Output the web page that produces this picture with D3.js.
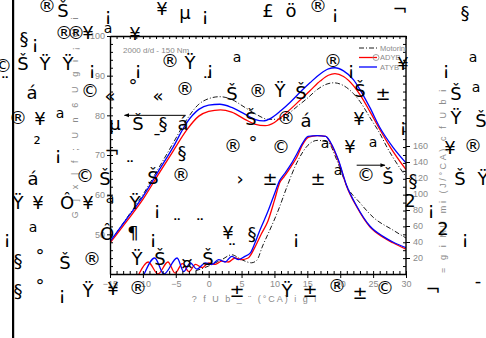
<!DOCTYPE html>
<html>
<head>
<meta charset="utf-8">
<script src="https://cdn.jsdelivr.net/npm/d3@7"></script>
<style>
  body { margin: 0; background: #fff; }
  svg { display: block; }
</style>
</head>
<body>
<div id="chart"></div>
<script>
// crank angle (°CA) / cylinder pressure (left axis)
const pressureMotoring = [[-15,48],[-12.5,54],[-10,60],[-7.5,67],[-5.4,73],[-3.5,78.5],[-1.5,82.8],[0,84.2],[1.7,84.7],[3.5,84],[5.5,82],[7.5,80],[9,79],[10.5,79],[12,80.3],[13.5,82.3],[15,84.3],[16.5,86.5],[18,87.9],[19,88.2],[20.5,87.5],[22,85.5],[23,83.5],[24.5,79.5],[26,75.5],[27.1,72],[30,64.5]];
const pressureADYB = [[-15,47.8],[-12.5,53.2],[-10,58.8],[-7.5,65.5],[-5.4,71],[-3.3,76.4],[-1.5,79.8],[0,81],[1.8,81.4],[3.5,80.8],[5.5,79],[7,77.8],[8.6,77.4],[10,78.2],[11.2,79.8],[12.4,81.5],[14,84],[15.4,86.2],[17,88.7],[18.2,90.1],[19.2,90.5],[20.5,89.8],[22,87.5],[23,85.2],[24.5,81],[26,76.5],[27.6,72],[30,66.3]];
const pressureATYB = [[-15,48.2],[-12.5,53.8],[-10,59.5],[-7.5,66.3],[-5.4,72],[-3.4,78],[-1.5,81.5],[0,82.6],[1.7,82.8],[3.5,82],[5.5,80.3],[7,79],[8.3,78.6],[9.5,79.3],[11,81.2],[12.4,83.3],[14,86],[15.4,88.2],[17,90.5],[18.2,91.7],[19.2,92],[20.5,91.2],[22,89],[23,86.5],[24.5,82],[26,77],[28,72],[30,68]];

// heat release rate (right axis)
const hrrMotoring = [[-2,4],[0,10],[2,18],[3.5,24],[5,18],[6.5,14],[7.3,17],[8.2,35],[9.3,55],[10.6,80],[11.9,109],[13.4,139],[15.1,161],[16.5,167],[18.1,165],[19.5,142],[21,110],[23,89],[25,71],[28,55],[30,45]];
const hrrADYB = [[-10.6,0],[-9.2,15],[-7.7,0],[-6.2,15],[-5.1,1],[-4,13],[-3,3],[-2,12],[-1,8],[0,14],[1,12],[2,16],[3,15],[4,20],[5,18],[6,20],[7,33],[8,50],[9,66],[10,92],[10.8,114],[11.5,122],[12.5,134],[13.4,146],[14.3,162],[15.2,171],[16.5,173],[17.8,172],[18.5,164],[19.7,142],[21,109],[22.5,84],[24.5,59],[26.5,46],[28,39],[30,31]];
const hrrATYB = [[-9.8,0],[-8.2,20],[-6.8,0],[-4.8,20],[-3.8,3],[-2.8,14],[-1.8,6],[-0.5,14],[0.5,12],[1.5,18],[2.5,15],[3.5,22],[4.5,18],[5.5,22],[6.3,26],[7,38],[7.8,55],[9,78],[10,100],[10.8,117],[11.5,125],[12.5,137],[13.4,150],[14.3,164],[15.1,172],[16.5,173],[17.8,172],[18.5,165],[19.7,143],[21,110],[22.5,85],[24.5,60],[26.5,47],[28,40],[30,33]];

const xTicks = [-15,-10,-5,0,5,10,15,20,25,30];
const leftTicks = [50,60,70,80,90,100];
const rightTicks = [20,40,60,80,100,120,140,160];
const legendNames = ["Motoring","ADYB","ATYB"];

// garbled glyphs printed over the figure
const glyphs = [
  ["®",47,5],["Š",63,10],["¡",108,14],["¥",162,8],["µ",185,12],["¡",205,14],["£",268,10],["ö",291,10],["®",318,5],["¡",335,12],["¬",400,8],["§",465,12],
  ["§",24,38],["¡",35,42],["®",64,32],["®",76,32],["¥",88,32],["a",108,28],["¥",135,33],
  ["©",3,65],["Š",23,63],["Ÿ",45,63],["Ÿ",68,63],["¡",92,68],["¡",138,68],["®",170,60],["Ÿ",190,62],["¡",210,68],["a",237,57],["®",333,60],["¡",351,68],["¥",403,63],["¡",446,68],["a",473,57],
  ["¨",5,83],["á",32,92],["©",90,90],["«",110,95],["°",133,85],["«",158,95],["®",185,88],["¨",207,83],["Š",232,93],["®",258,90],["Ÿ",280,90],["Š",301,92],["Š",360,90],["±",383,93],["Š",456,93],["a",476,87],
  ["®",18,117],["¥",40,118],["a",60,113],["µ",115,123],["Š",138,123],["§",163,123],["á",183,123],["Š",251,118],["®",286,117],["á",306,120],["¥",359,118],["¡",403,125],["Ÿ",456,117],["Š",481,120],
  ["²",37,143],["¡",58,153],["¯",157,140],["¬",112,150],["§",182,152],["®",233,145],["°",253,142],["©",281,146],["a",325,143],["¥",350,146],["a",373,142],["¥",450,147],["®",473,145],
  ["á",33,178],["¨",130,167],["©",85,175],["Š",105,178],["Š",153,177],["®",181,174],["›",240,178],["±",270,178],["±",318,178],["a",338,170],["©",366,174],["Š",388,177],["§",413,180],["Š",460,178],["Ÿ",483,178],
  ["Ÿ",18,202],["¥",38,202],["Ô",67,202],["¥",88,202],["a",110,198],["Ÿ",135,202],["¡",157,208],["2",410,200],["¡",431,208],
  ["¡",7,237],["a",33,227],["Ô",107,233],["¶",133,232],["¡",153,237],["¨",177,225],["¨",200,225],["¥",228,232],["§",252,233],["¡",296,237],["2",443,228],["¡",465,237],
  ["§",18,260],["°",40,255],["Š",65,262],["®",92,258],["Ÿ",137,258],["Š",160,258],["¤",187,262],["Š",208,258],["¨",232,250],
  ["§",18,290],["°",40,285],["¡",62,293],["Ÿ",88,290],["¥",113,288],["®",138,287],["±",237,290],["Ÿ",287,290],["±",310,290],["®",337,285],["±",360,292],["©",385,287],["¬",433,288],["-",478,280]
];

const W = 486, H = 338;
const plot = { left: 110, right: 406, top: 36, bottom: 274 };
const grey = "#8a8a8a";

const svg = d3.select("#chart").append("svg")
  .attr("width", W)
  .attr("height", H)
  .style("font-family", "'Liberation Sans', Arial, sans-serif");

svg.append("rect").attr("width", W).attr("height", H).attr("fill", "#fff");

let x = d3.scaleLinear().domain([-15, 30]).range([plot.left, plot.right]);
let yP = d3.scaleLinear().domain([40, 100]).range([plot.bottom, plot.top]);
let yH = d3.scaleLinear().domain([0, 160]).range([plot.bottom, plot.bottom - 128]);

svg.append("clipPath").attr("id", "clip")
  .append("rect")
  .attr("x", plot.left).attr("y", plot.top)
  .attr("width", plot.right - plot.left).attr("height", plot.bottom - plot.top);

const g = svg.append("g").attr("clip-path", "url(#clip)");

let lineP = d3.line().x(d => x(d[0])).y(d => yP(d[1])).curve(d3.curveMonotoneX);
let lineH = d3.line().x(d => x(d[0])).y(d => yH(d[1])).curve(d3.curveMonotoneX);

const series = [
  { p: pressureMotoring, h: hrrMotoring, color: "#000", width: 0.9, dash: "5,2,1,2" },
  { p: pressureADYB, h: hrrADYB, color: "#ff0000", width: 1.3, dash: null },
  { p: pressureATYB, h: hrrATYB, color: "#0000ff", width: 1.3, dash: null }
];

series.forEach(function(s) {
  [lineP(s.p), lineH(s.h)].forEach(function(path) {
    g.append("path")
      .attr("d", path)
      .attr("fill", "none")
      .attr("stroke", s.color)
      .attr("stroke-width", s.width)
      .attr("stroke-dasharray", s.dash);
  });
});

// axes
function styleAxis(sel) {
  sel.selectAll(".domain").attr("stroke", "#000").attr("stroke-width", 1.4);
  sel.selectAll(".tick line").attr("stroke", "#000");
  sel.selectAll(".tick text").attr("fill", grey).style("font-size", "9px");
}

const bottomAxis = svg.append("g")
  .attr("transform", "translate(0," + plot.bottom + ")")
  .call(d3.axisBottom(x).tickValues(xTicks).tickSize(4).tickSizeOuter(0).tickPadding(3));
styleAxis(bottomAxis);
svg.append("g")
  .attr("transform", "translate(0," + plot.bottom + ")")
  .call(d3.axisBottom(x).tickValues(d3.range(-15, 31, 1)).tickSize(-3).tickSizeOuter(0).tickFormat(""))
  .call(s => s.select(".domain").remove());

svg.append("g")
  .attr("transform", "translate(0," + plot.top + ")")
  .call(d3.axisTop(x).tickValues(d3.range(-15, 31, 1)).tickSize(-3).tickSizeOuter(0).tickFormat(""))
  .call(s => s.select(".domain").attr("stroke-width", 1.4));

const leftAxis = svg.append("g")
  .attr("transform", "translate(" + plot.left + ",0)")
  .call(d3.axisLeft(yP).tickValues(leftTicks).tickSize(3).tickSizeOuter(0).tickPadding(2));
styleAxis(leftAxis);
svg.append("g")
  .attr("transform", "translate(" + plot.left + ",0)")
  .call(d3.axisLeft(yP).tickValues(d3.range(40, 101, 2)).tickSize(-3).tickSizeOuter(0).tickFormat(""))
  .call(s => s.select(".domain").remove());

svg.append("line")
  .attr("x1", plot.right).attr("x2", plot.right)
  .attr("y1", plot.top).attr("y2", plot.bottom)
  .attr("stroke", "#000").attr("stroke-width", 1.4);

const rightAxis = svg.append("g")
  .attr("transform", "translate(" + plot.right + ",0)")
  .call(d3.axisRight(yH).tickValues(rightTicks).tickSize(4).tickSizeOuter(0).tickPadding(3));
styleAxis(rightAxis);
rightAxis.select(".domain").remove();
svg.append("g")
  .attr("transform", "translate(" + plot.right + ",0)")
  .call(d3.axisRight(yP).tickValues(d3.range(40, 101, 2)).tickSize(-3).tickSizeOuter(0).tickFormat(""))
  .call(s => s.select(".domain").remove());

// axis titles (garbled as in the source)
svg.append("text")
  .attr("x", 255).attr("y", 302)
  .attr("text-anchor", "middle")
  .attr("fill", grey).style("font-size", "9px")
  .attr("letter-spacing", "2")
  .text("? f U b _ ¨ (°CA) i g i");

svg.append("text")
  .attr("transform", "translate(78,116) rotate(-90)")
  .attr("text-anchor", "middle")
  .attr("fill", grey).style("font-size", "9px")
  .attr("letter-spacing", "3.6")
  .text("G ] x | f ; U n 6 U g i ¡ W i");

svg.append("text")
  .attr("transform", "translate(446,180) rotate(-90)")
  .attr("text-anchor", "middle")
  .attr("fill", grey).style("font-size", "9px")
  .attr("letter-spacing", "2.6")
  .text("= g i MU mi (J/°CA) c f U b i");

// annotation
svg.append("text")
  .attr("x", 123).attr("y", 53)
  .attr("fill", grey).style("font-size", "8px")
  .text("2000 d/d - 150 Nm");

// legend, clipped by the plot frame
const legend = svg.append("g").attr("clip-path", "url(#clip)");
series.forEach(function(s, i) {
  let ly = 48 + i * 9.5;
  legend.append("line")
    .attr("x1", 359).attr("x2", 377)
    .attr("y1", ly).attr("y2", ly)
    .attr("stroke", s.color).attr("stroke-width", s.width)
    .attr("stroke-dasharray", s.dash);
  legend.append("text")
    .attr("x", 380).attr("y", ly + 2.8)
    .attr("fill", grey).style("font-size", "7.5px")
    .text(legendNames[i]);
});
legend.append("circle")
  .attr("cx", 376).attr("cy", 57.5).attr("r", 3)
  .attr("fill", "none").attr("stroke", grey).attr("stroke-width", 0.8);

// arrows pointing to the axes
svg.append("defs").append("marker")
  .attr("id", "head")
  .attr("viewBox", "0 0 10 10")
  .attr("refX", 9).attr("refY", 5)
  .attr("markerWidth", 7).attr("markerHeight", 5)
  .attr("orient", "auto")
  .append("path").attr("d", "M0,1 L10,5 L0,9 Z").attr("fill", "#000");

svg.append("line")
  .attr("x1", x(-3.5)).attr("x2", x(-12.8))
  .attr("y1", yP(80)).attr("y2", yP(80))
  .attr("stroke", "#000").attr("stroke-width", 1)
  .attr("marker-end", "url(#head)");

svg.append("line")
  .attr("x1", x(22.5)).attr("x2", x(26.8))
  .attr("y1", yH(136)).attr("y2", yH(136))
  .attr("stroke", "#000").attr("stroke-width", 1)
  .attr("marker-end", "url(#head)");

// left border bar
svg.append("rect")
  .attr("x", 12).attr("y", 0)
  .attr("width", 2.2).attr("height", H)
  .attr("fill", "#000");

// overlay glyphs
svg.append("g")
  .selectAll("text")
  .data(glyphs)
  .enter()
  .append("text")
  .attr("x", d => d[1])
  .attr("y", d => d[2])
  .attr("text-anchor", "middle")
  .attr("dominant-baseline", "central")
  .style("font-family", "'DejaVu Sans', sans-serif")
  .style("font-size", d => d[0] === "a" ? "14px" : "18px")
  .attr("fill", "#000")
  .text(d => d[0]);
</script>
</body>
</html>
